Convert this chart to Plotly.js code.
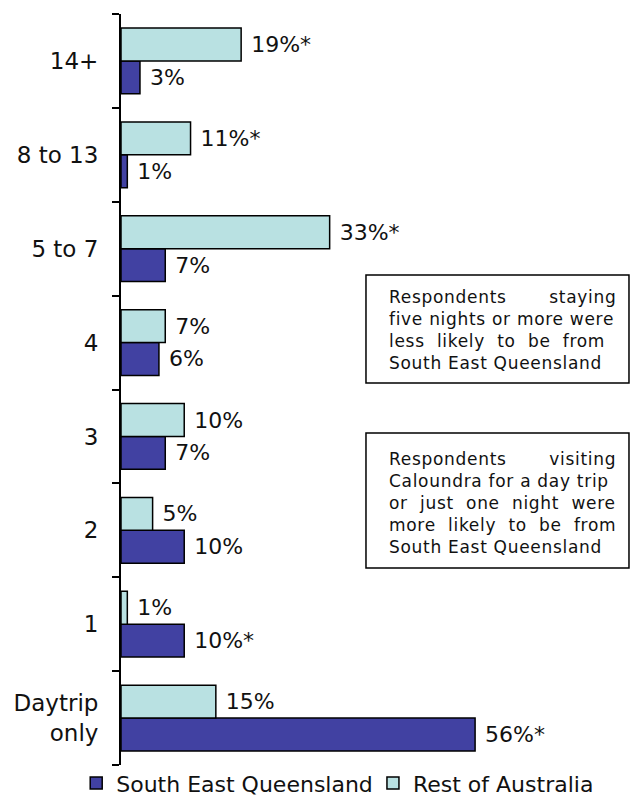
<!DOCTYPE html>
<html><head><meta charset="utf-8">
<script src="https://cdn.plot.ly/plotly-3.0.1.min.js"></script>
<style>html,body{margin:0;padding:0;background:#fff;}</style>
</head><body><div id="chart" style="width:630px;height:796px;"></div>
<script>
const categories = ["Daytrip<br>only", "1", "2", "3", "4", "5 to 7", "8 to 13", "14+"];
const seqValues = [56, 10, 10, 7, 6, 7, 1, 3];
const seqLabels = ["56%*", "10%*", "10%", "7%", "6%", "7%", "1%", "3%"];
const restValues = [15, 1, 5, 10, 7, 33, 11, 19];
const restLabels = ["15%", "1%", "5%", "10%", "7%", "33%*", "11%*", "19%*"];
const seriesNames = ["South East Queensland", "Rest of Australia"];
const note1Lines = ["Respondents       staying", "five nights or more were", "less  likely  to  be  from", "South East Queensland"];
const note2Lines = ["Respondents       visiting", "Caloundra for a day trip", "or  just  one  night  were", "more  likely  to  be  from", "South East Queensland"];

const font = "DejaVu Sans, Verdana, sans-serif";
const pad = s => " " + s;
const spaced = lines => '<span style="letter-spacing:0.7px">' + lines.join("<br>") + '</span>';

const traces = [
  {type:"bar", orientation:"h", name:seriesNames[0], y:categories, x:seqValues,
   text:seqLabels.map(pad), textposition:"outside", cliponaxis:false,
   textfont:{size:22, color:"#111", family:font}, legend:"legend",
   marker:{color:"#4141a2", line:{color:"#000", width:1.5}}, hoverinfo:"none"},
  {type:"bar", orientation:"h", name:seriesNames[1], y:categories, x:restValues,
   text:restLabels.map(pad), textposition:"outside", cliponaxis:false,
   textfont:{size:22, color:"#111", family:font}, legend:"legend2",
   marker:{color:"#b9e1e2", line:{color:"#000", width:1.5}}, hoverinfo:"none"}
];
const legendBase = {orientation:"h", xref:"paper", xanchor:"left",
  yref:"container", y:0.016, yanchor:"middle", bgcolor:"rgba(0,0,0,0)",
  font:{size:22, family:font}, itemwidth:30};
const layout = {
  width:630, height:796,
  margin:{l:121, r:0, t:14, b:31, autoexpand:false},
  paper_bgcolor:"#fff", plot_bgcolor:"#fff",
  font:{family:font, color:"#111"},
  barmode:"group", bargap:0.3, bargroupgap:0,
  showlegend:true,
  legend:Object.assign({}, legendBase, {x:-0.088}),
  legend2:Object.assign({}, legendBase, {x:0.495}),
  xaxis:{range:[0, 80.5], visible:false, fixedrange:true},
  yaxis:{type:"category", categoryorder:"array", categoryarray:categories,
         tickson:"boundaries", ticks:"outside", ticklen:7, tickwidth:2, tickcolor:"#000",
         showline:true, linecolor:"#000", linewidth:2, showgrid:false, zeroline:false,
         tickfont:{size:23, family:font, color:"#111"}, ticklabelstandoff:16, fixedrange:true},
  shapes:[
    {type:"rect", xref:"paper", yref:"paper", x0:0.4813, x1:0.998, y0:0.5087, y1:0.6525,
     line:{color:"#000", width:1.5}, fillcolor:"#fff", layer:"above"},
    {type:"rect", xref:"paper", yref:"paper", x0:0.4813, x1:0.998, y0:0.2623, y1:0.4421,
     line:{color:"#000", width:1.5}, fillcolor:"#fff", layer:"above"}
  ],
  annotations:[
    {xref:"paper", yref:"paper", x:0.5226, xanchor:"left", y:0.5792, yanchor:"middle",
     text:spaced(note1Lines), showarrow:false, align:"left",
     font:{size:17, family:font, color:"#111"}},
    {xref:"paper", yref:"paper", x:0.5226, xanchor:"left", y:0.349, yanchor:"middle",
     text:spaced(note2Lines), showarrow:false, align:"left",
     font:{size:17, family:font, color:"#111"}}
  ]
};
Plotly.newPlot("chart", traces, layout, {displayModeBar:false, staticPlot:true});
</script></body></html>
